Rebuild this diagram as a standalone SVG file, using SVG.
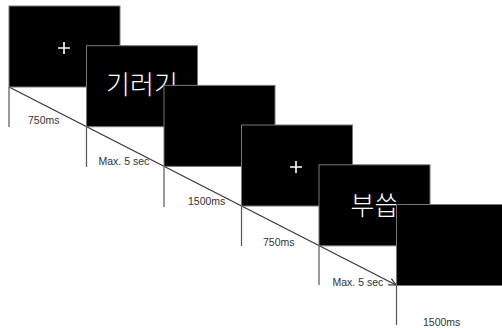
<svg xmlns="http://www.w3.org/2000/svg" width="502" height="328" viewBox="0 0 502 328">
<defs>
<style>
.scr{fill:#000;stroke:#777;stroke-width:1}
.tick{stroke:#555;stroke-width:1.2;fill:none}
.lbl{font-family:"Segoe UI","Liberation Sans","Noto Sans",sans-serif;font-size:10.5px;fill:#333}
.plus{stroke:#fff;stroke-width:1.6}
.kr{font-family:"Noto Sans CJK KR","Noto Sans",sans-serif;font-size:26px;fill:#fff;text-anchor:middle;font-weight:300}
</style>
<marker id="ah" markerWidth="8" markerHeight="8" refX="7" refY="4" orient="auto" markerUnits="userSpaceOnUse">
<path d="M0,0.5 L7,4 L0,7.5" fill="none" stroke="#333" stroke-width="1.2"/>
</marker>
</defs>
<rect width="502" height="328" fill="#fff"/>
<g id="connectors">
<line x1="9" y1="87" x2="396" y2="285" stroke="#333" stroke-width="1.1" marker-end="url(#ah)"/>
<line class="tick" x1="9" y1="87" x2="9" y2="127"/>
<line class="tick" x1="86.5" y1="126.7" x2="86.5" y2="167"/>
<line class="tick" x1="164" y1="166.4" x2="164" y2="207"/>
<line class="tick" x1="241.5" y1="206" x2="241.5" y2="246"/>
<line class="tick" x1="319" y1="245.8" x2="319" y2="285"/>
<line class="tick" x1="396.5" y1="285.5" x2="396.5" y2="325"/>
</g>
<g id="screen1">
<rect class="scr" x="9" y="6" width="111" height="81"/>
<path class="plus" d="M58,48 H70 M64,42 V54"/>
<text class="lbl" x="28" y="124">750ms</text>
</g>
<g id="screen2">
<rect class="scr" x="86.5" y="45.7" width="111" height="81"/>
<text class="kr" x="142" y="93.5">기러기</text>
<text class="lbl" x="98.5" y="165">Max. 5 sec</text>
</g>
<g id="screen3">
<rect class="scr" x="164" y="85.4" width="111" height="81"/>
<text class="lbl" x="188" y="205">1500ms</text>
</g>
<g id="screen4">
<rect class="scr" x="241.5" y="125" width="111" height="81"/>
<path class="plus" d="M290,167 H302 M296,161 V173"/>
<text class="lbl" x="263" y="245.5">750ms</text>
</g>
<g id="screen5">
<rect class="scr" x="319" y="164.8" width="111" height="81"/>
<text class="kr" x="374.5" y="214.5">부씁</text>
<text class="lbl" x="332.5" y="286">Max. 5 sec</text>
</g>
<g id="screen6">
<rect class="scr" x="396.5" y="204.5" width="111" height="81"/>
<text class="lbl" x="423" y="326">1500ms</text>
</g>
</svg>
